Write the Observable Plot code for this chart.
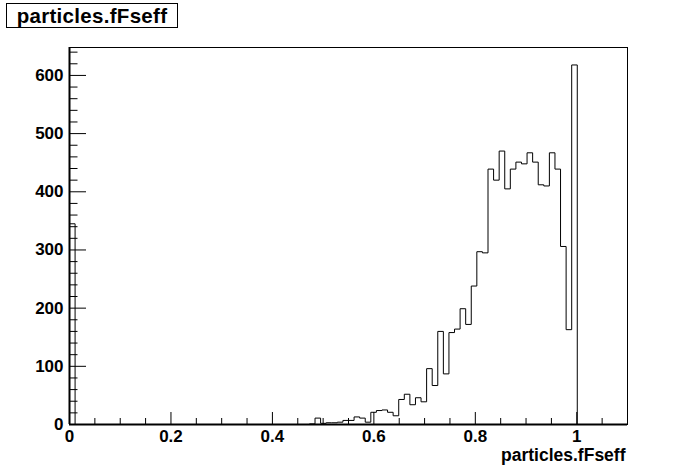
<!DOCTYPE html>
<html>
<head>
<meta charset="utf-8">
<script src="https://cdn.jsdelivr.net/npm/d3@7"></script>
<script src="https://cdn.jsdelivr.net/npm/@observablehq/plot@0.6"></script>
<style>
  html, body { margin: 0; padding: 0; background: white; }
  #wrap { position: relative; width: 696px; height: 472px; }
  #title {
    position: absolute; left: 6px; top: 3px; width: 172px; height: 25px;
    border: 1px solid black; background: white; box-sizing: border-box;
    font-family: "Liberation Sans", Arial, sans-serif; font-weight: bold; font-size: 20.5px;
    line-height: 24px; text-align: center; color: black; letter-spacing: 0.3px;
  }
</style>
</head>
<body>
<div id="wrap"><div id="title"></div></div>
<script>
// Histogram definition (ROOT TH1: 100 bins on [0, 1.1])
const histTitle = "particles.fFseff";
const xTitle = "particles.fFseff";
const nBins = 100;
const xMin = 0;
const xMax = 1.1;
const yMax = 648;

// bin contents, bins 0..99
const counts = [
  345, 0, 0, 0, 0, 0, 0, 0, 0, 0,
  0, 0, 0, 0, 0, 0, 0, 0, 0, 0,
  0, 0, 0, 0, 0, 0, 0, 0, 0, 0,
  0, 0, 0, 0, 0, 0, 0, 0, 0, 0,
  0, 0, 0, 1, 11, 2, 3, 3, 4, 7,
  7, 13, 11, 4, 21, 24, 25, 21, 15, 43,
  52, 34, 46, 39, 96, 67, 160, 87, 158, 164,
  199, 172, 238, 297, 295, 439, 420, 470, 405, 439,
  451, 448, 467, 451, 412, 410, 467, 439, 306, 163,
  618, 0, 0, 0, 0, 0, 0, 0, 0, 0
];

const xMajorTicks = [0, 0.2, 0.4, 0.6, 0.8, 1];
const xMajorLabels = ["0", "0.2", "0.4", "0.6", "0.8", "1"];
const xMinorTicks = [0.05, 0.1, 0.15, 0.25, 0.3, 0.35, 0.45, 0.5, 0.55, 0.65, 0.7, 0.75, 0.85, 0.9, 0.95, 1.05];
const yMajorTicks = [0, 100, 200, 300, 400, 500, 600];
const yMajorLabels = ["0", "100", "200", "300", "400", "500", "600"];
const yMinorTicks = d3.range(20, 641, 20).filter(v => v % 100 !== 0);

document.getElementById("title").textContent = histTitle;

// step outline of the histogram
const binW = (xMax - xMin) / nBins;
const steps = [];
counts.forEach((c, i) => {
  steps.push({x: xMin + i * binW, y: c});
  steps.push({x: xMin + (i + 1) * binW, y: c});
});

const W = 696, H = 472, mL = 69, mR = 69, mT = 47, mB = 48;
const innerW = W - mL - mR, innerH = H - mT - mB;
const font = "Liberation Sans, Arial, Helvetica, sans-serif";

const chart = Plot.plot({
  width: W, height: H,
  marginLeft: mL, marginRight: mR, marginTop: mT, marginBottom: mB,
  x: {domain: [xMin, xMax]},
  y: {domain: [0, yMax]},
  style: {fontFamily: font, background: "white", color: "black", overflow: "visible"},
  marks: [
    Plot.line(steps, {x: "x", y: "y", stroke: "black", strokeWidth: 1}),
    Plot.frame({stroke: "black", strokeWidth: 1}),
    Plot.tickY(yMinorTicks, {y: d => d, stroke: "black", insetRight: innerW - 8.5}),
    Plot.tickY(yMajorTicks, {y: d => d, stroke: "black", insetRight: innerW - 17}),
    Plot.tickX(xMinorTicks, {x: d => d, stroke: "black", insetTop: innerH - 6}),
    Plot.tickX(xMajorTicks, {x: d => d, stroke: "black", insetTop: innerH - 12}),
    Plot.ruleX([xMin], {stroke: "black", strokeWidth: 2}),
    Plot.ruleY([0], {stroke: "black", strokeWidth: 2}),
    Plot.axisY(yMajorTicks, {
      anchor: "left", tickSize: 0, tickPadding: 6, label: null,
      tickFormat: d => yMajorLabels[yMajorTicks.indexOf(d)],
      fontSize: 17, fontWeight: "bold", fill: "black"
    }),
    Plot.axisX(xMajorTicks, {
      anchor: "bottom", tickSize: 0, tickPadding: 5, label: null,
      tickFormat: d => xMajorLabels[xMajorTicks.indexOf(d)],
      fontSize: 17, fontWeight: "bold", fill: "black"
    }),
    Plot.text([xTitle], {
      text: d => d, frameAnchor: "bottom-right", textAnchor: "end",
      lineAnchor: "middle", dy: 31, dx: -2,
      fontSize: 17.5, fontWeight: "bold", fill: "black"
    })
  ]
});

document.getElementById("wrap").prepend(chart);
</script>
</body>
</html>
